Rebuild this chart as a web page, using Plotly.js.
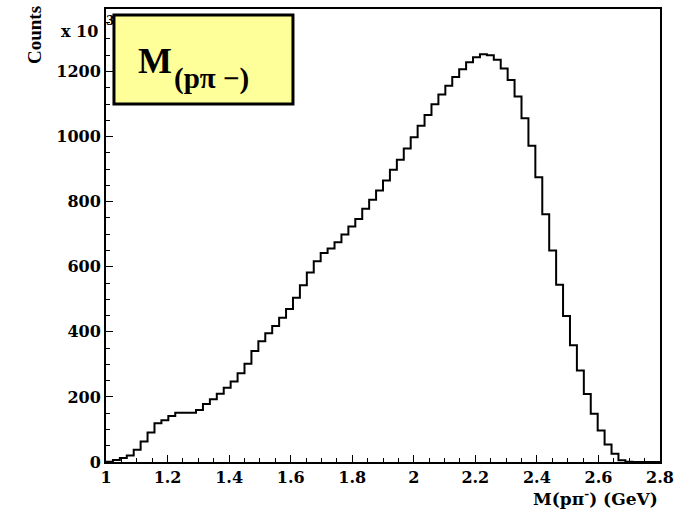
<!DOCTYPE html>
<html>
<head>
<meta charset="utf-8">
<script src="https://cdn.plot.ly/plotly-3.0.1.min.js"></script>
<style>
html,body{margin:0;padding:0;background:#fff;}
#chart{width:686px;height:509px;}
</style>
</head>
<body>
<div id="chart"></div>
<script>
// Histogram: M(p pi-) , 80 bins from 1.0 to 2.8 GeV
const xMin = 1.0;
const xMax = 2.8;
const nBins = 80;
const counts = [
  1, 6, 12, 20, 38, 63, 91, 119, 128, 141,
  151, 151, 151, 160, 178, 193, 210, 228, 247, 273,
  302, 341, 371, 396, 418, 443, 470, 505, 543, 582,
  617, 642, 656, 675, 699, 724, 747, 778, 806, 834,
  865, 898, 929, 963, 998, 1033, 1066, 1099, 1129, 1156,
  1183, 1207, 1228, 1244, 1253, 1250, 1236, 1209, 1174, 1123,
  1056, 972, 875, 761, 650, 545, 449, 359, 281, 209,
  148, 97, 54, 25, 5, 1, 0, 0, 0, 0
];
const xTitle = "M(pπ<sup>-</sup>) (GeV)";
const yTitle = "Counts";
const boxMain = "M";
const boxSub = "(pπ −)";
const expBase = "x 10";
const expPow = "3";

const binW = (xMax - xMin) / nBins;
const edges = [];
for (let i = 0; i <= nBins; i++) edges.push(xMin + i * binW);
const yStep = counts.concat([counts[counts.length - 1]]);

const serif = "Liberation Serif, Times New Roman, serif";
const dserif = "DejaVu Serif, serif";

const trace = {
  type: "scatter",
  mode: "lines",
  x: edges,
  y: yStep,
  line: {shape: "hv", color: "#000", width: 2},
  hoverinfo: "skip",
  showlegend: false
};

const axisCommon = {
  showline: true, linecolor: "#000", linewidth: 2, mirror: true,
  ticks: "inside", tickcolor: "#000", tickwidth: 1, ticklen: 7,
  showgrid: false, zeroline: false,
  tickfont: {family: dserif, size: 16, color: "#000", weight: "bold"}
};

const layout = {
  width: 686, height: 509,
  margin: {l: 106, r: 26, t: 9, b: 47, pad: 0},
  paper_bgcolor: "#fff", plot_bgcolor: "#fff",
  xaxis: Object.assign({}, axisCommon, {
    range: [xMin, xMax], tick0: 1, dtick: 0.2,
    minor: {ticks: "inside", dtick: 0.05, ticklen: 4, tickcolor: "#000", tickwidth: 1, showgrid: false}
  }),
  yaxis: Object.assign({}, axisCommon, {
    range: [0, 1392], tick0: 0, dtick: 200,
    minor: {ticks: "inside", dtick: 50, ticklen: 4, tickcolor: "#000", tickwidth: 1, showgrid: false}
  }),
  shapes: [{
    type: "rect", xref: "paper", yref: "paper",
    x0: 0.0144, x1: 0.3375, y0: 0.7903, y1: 0.9868,
    fillcolor: "#ffff99", line: {color: "#000", width: 3}, layer: "above"
  }],
  annotations: [
    {text: xTitle, xref: "paper", yref: "paper", x: 1, y: -0.0795,
     xanchor: "right", yanchor: "middle", showarrow: false,
     font: {family: dserif, size: 17, color: "#000", weight: "bold"}},
    {text: yTitle, xref: "paper", yref: "paper", x: -0.13, y: 0.9426,
     xanchor: "center", yanchor: "middle", textangle: -90, showarrow: false,
     font: {family: serif, size: 19, color: "#000", weight: "bold"}},
    {text: expBase, xref: "paper", yref: "paper", x: -0.0108, y: 0.9514,
     xanchor: "right", yanchor: "middle", showarrow: false,
     font: {family: dserif, size: 16, color: "#000", weight: "bold"}},
    {text: expPow, xref: "paper", yref: "paper", x: -0.0045, y: 0.9735,
     xanchor: "left", yanchor: "middle", showarrow: false,
     font: {family: dserif, size: 12, color: "#000", weight: "bold"}},
    {text: boxMain, xref: "paper", yref: "paper", x: 0.0542, y: 0.8852,
     xanchor: "left", yanchor: "middle", showarrow: false,
     font: {family: serif, size: 36, color: "#000", weight: "bold"}},
    {text: boxSub, xref: "paper", yref: "paper", x: 0.1191, y: 0.847,
     xanchor: "left", yanchor: "middle", showarrow: false,
     font: {family: serif, size: 29, color: "#000", weight: "bold"}}
  ]
};

Plotly.newPlot("chart", [trace], layout, {displayModeBar: false, staticPlot: true});
</script>
</body>
</html>
